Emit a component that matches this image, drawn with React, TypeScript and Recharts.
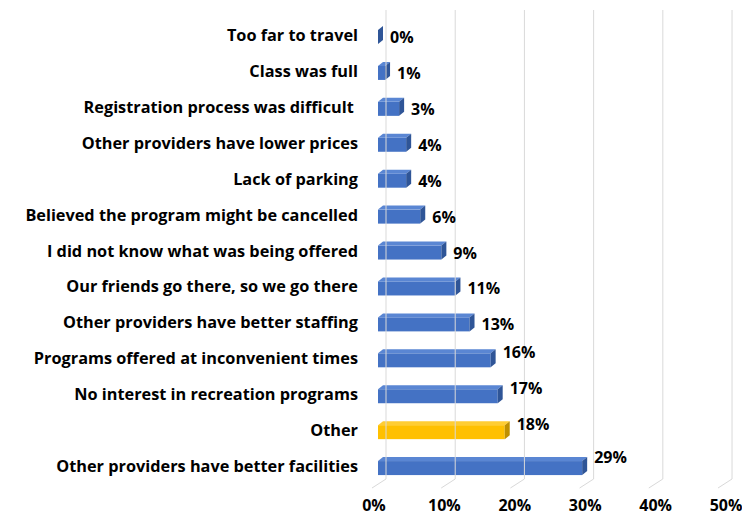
import React from 'react';
import { BarChart, Bar, XAxis, YAxis, LabelList, Cell } from 'recharts';

const reasons = [
  'Too far to travel',
  'Class was full',
  'Registration process was difficult ',
  'Other providers have lower prices',
  'Lack of parking',
  'Believed the program might be cancelled',
  'I did not know what was being offered',
  'Our friends go there, so we go there',
  'Other providers have better staffing',
  'Programs offered at inconvenient times',
  'No interest in recreation programs',
  'Other',
  'Other providers have better facilities',
];

const shares = [0, 1, 3, 4, 4, 6, 9, 11, 13, 16, 17, 18, 29];

const highlighted = ['Other'];

const xTicks = [0, 10, 20, 30, 40, 50];

const data = reasons.map((reason, i) => ({ reason, share: shares[i] }));

const FONT = '"Open Sans", "DejaVu Sans", sans-serif';

const palette: Record<string, { front: string; top: string; side: string }> = {
  blue: { front: '#4472C4', top: '#5A86D3', side: '#2F5597' },
  gold: { front: '#FFC000', top: '#FFCD33', side: '#BF9000' },
};

const DX = 5;
const DY = 4;

const Bar3D = (props: any) => {
  const { x, y, width, height, fill } = props;
  const c = fill === 'gold' ? palette.gold : palette.blue;
  const top = y + 2;
  const w = Math.max(width, 0);
  return (
    <g>
      <rect x={x} y={top} width={w} height={height} fill={c.front} />
      <polygon
        points={`${x},${top} ${x + DX},${top - DY} ${x + w + DX},${top - DY} ${x + w},${top}`}
        fill={c.top}
      />
      <polygon
        points={`${x + w},${top} ${x + w + DX},${top - DY} ${x + w + DX},${top + height - DY} ${x + w},${top + height}`}
        fill={c.side}
      />
    </g>
  );
};

const ValueLabel = (props: any) => {
  const { x, y, width, height, value } = props;
  const lift = value >= 25 ? -11 : value >= 15 ? -8 : 0;
  return (
    <text
      x={x + width + DX + 7}
      y={y + 2 + height / 2 + lift}
      dominantBaseline="central"
      fontFamily={FONT}
      fontWeight={700}
      fontSize={16}
      fill="#000"
    >
      {`${value}%`}
    </text>
  );
};

// back-wall gridline + floor diagonal + label, all from the tick position
const XTick = (props: any) => {
  const { x, payload } = props;
  const back = x + 8 - (x - 378) * 0.017;
  return (
    <g>
      <polyline
        points={`${back},10 ${back},479 ${back - 14},488`}
        fill="none"
        stroke="#D9D9D9"
        strokeWidth={1}
      />
      <text
        x={x - 4}
        y={505}
        textAnchor="middle"
        dominantBaseline="central"
        fontFamily={FONT}
        fontWeight={700}
        fontSize={16}
        fill="#000"
      >
        {`${payload.value}%`}
      </text>
    </g>
  );
};

const YTick = (props: any) => {
  const { x, y, payload } = props;
  return (
    <text
      x={x - 12}
      y={y}
      textAnchor="end"
      dominantBaseline="central"
      fontFamily={FONT}
      fontWeight={700}
      fontSize={16.3}
      fill="#000"
      style={{ whiteSpace: 'pre' }}
    >
      {payload.value}
    </text>
  );
};

export default function App() {
  return (
    <div
      style={{
        position: 'absolute',
        top: 0,
        left: 0,
        width: 742,
        height: 517,
        background: '#fff',
        overflow: 'hidden',
      }}
    >
      <div
        style={{
          position: 'absolute',
          top: -24,
          left: 0,
          width: 742,
          textAlign: 'center',
          fontFamily: FONT,
          fontWeight: 700,
          fontSize: 18,
          paddingLeft: 60,
          boxSizing: 'border-box',
        }}
      >
        Why have you not participated? (Check all that apply).
      </div>
      <BarChart
        width={742}
        height={517}
        data={data}
        layout="vertical"
        margin={{ top: 17, right: 12, bottom: 0, left: 0 }}
        barSize={14}
      >
        <XAxis
          type="number"
          domain={[0, 50]}
          ticks={xTicks}
          height={33}
          axisLine={false}
          tickLine={false}
          tick={<XTick />}
          interval={0}
        />
        <YAxis
          type="category"
          dataKey="reason"
          width={378}
          axisLine={false}
          tickLine={false}
          tick={<YTick />}
          interval={0}
        />
        <Bar dataKey="share" shape={<Bar3D />} isAnimationActive={false}>
          {data.map((d) => (
            <Cell key={d.reason} fill={highlighted.includes(d.reason) ? 'gold' : 'blue'} />
          ))}
          <LabelList dataKey="share" content={<ValueLabel />} />
        </Bar>
      </BarChart>
    </div>
  );
}
